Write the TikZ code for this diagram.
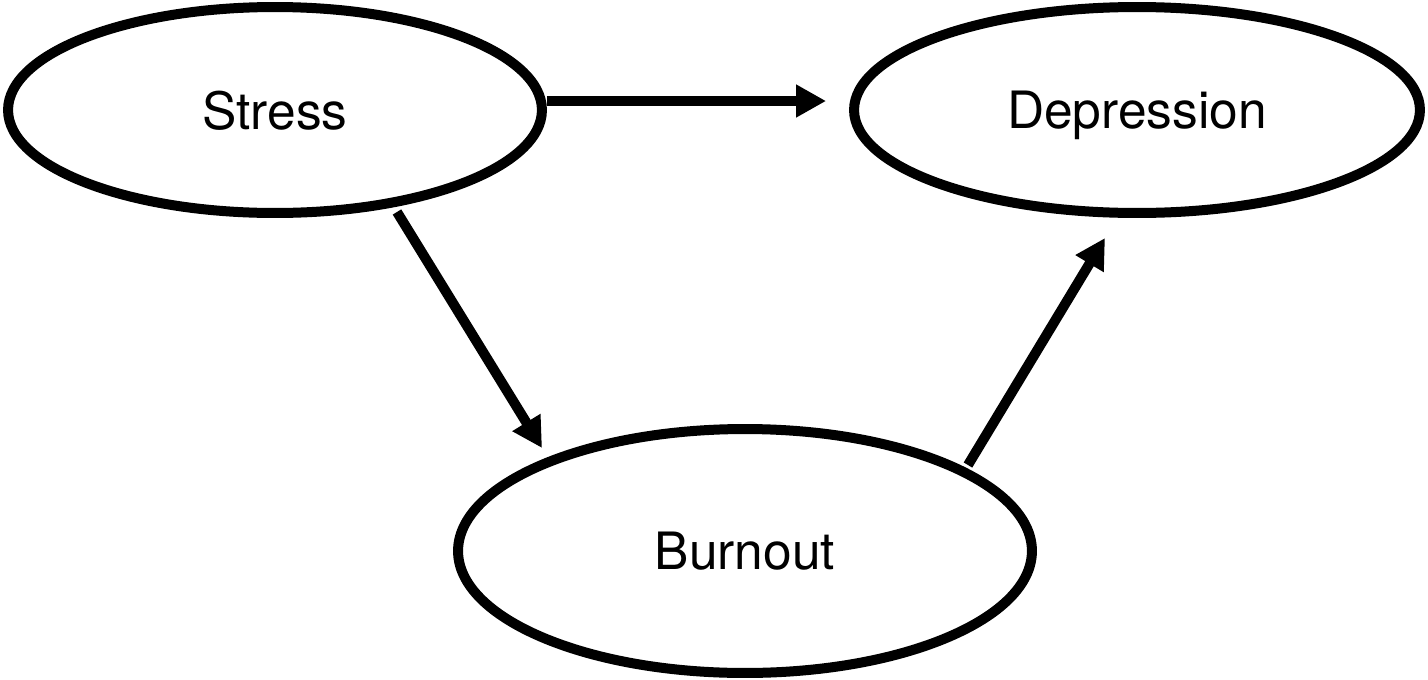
\documentclass[tikz,border=0pt]{standalone}
\usepackage{fontspec}
\setmainfont{TeX Gyre Heros}
\usetikzlibrary{arrows.meta, shapes.geometric}

\begin{document}
\begin{tikzpicture}[x=0.02cm, y=-0.02cm,
    bubble/.style={draw, ellipse, line width=0.2cm, inner sep=0pt,
      text depth=0pt, font=\fontsize{29.3}{35}\selectfont},
    link/.style={line width=0.2cm, -{Triangle[length=0.6cm, width=0.62cm]}}]
  \useasboundingbox (0,0) rectangle (1428,680);
  \node[bubble, minimum width=10.68cm, minimum height=4.12cm] (stress) at (275,110) {Stress};
  \node[bubble, minimum width=11.32cm, minimum height=4.12cm] (depression) at (1137,110) {Depression};
  \node[bubble, minimum width=11.48cm, minimum height=4.88cm] (burnout) at (745,551) {Burnout};
  \draw[link] ([yshift=0.18cm]stress.east) -- ([xshift=-0.46cm, yshift=0.18cm]depression.west);
  \draw[link] ([xshift=2.44cm, yshift=0.12cm]stress.south) -- ([xshift=-4.06cm, yshift=-0.48cm]burnout.north);
  \draw[link] ([xshift=4.46cm, yshift=-0.82cm]burnout.north) -- ([xshift=-0.64cm, yshift=-0.4cm]depression.south);
\end{tikzpicture}
\end{document}
